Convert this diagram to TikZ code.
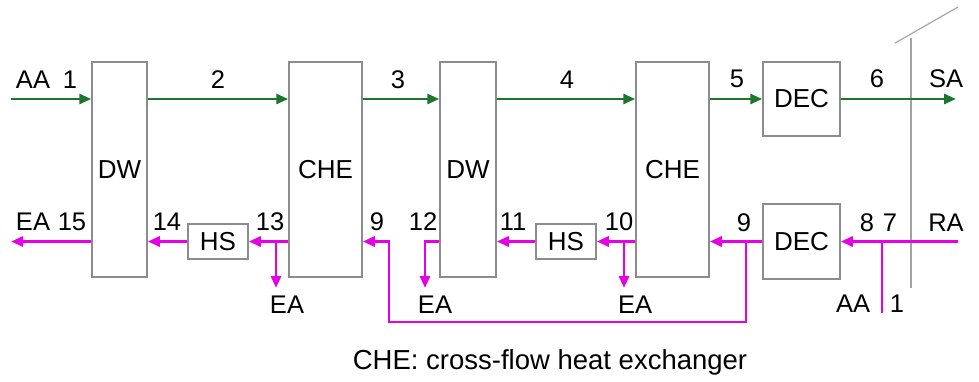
\documentclass[tikz,border=0pt]{standalone}
\usepackage{fontspec}
\setmainfont{Liberation Sans}
\usetikzlibrary{arrows.meta}
\definecolor{flowgreen}{RGB}{28,118,44}
\definecolor{flowmag}{RGB}{230,0,230}
\definecolor{boxgray}{RGB}{140,140,140}
\begin{document}
\begin{tikzpicture}[x=1pt,y=-1pt,
  unit/.style={draw=boxgray,line width=1.5pt,fill=white,inner sep=0pt,font=\fontsize{26}{26}\selectfont},
  tall/.style={unit,minimum height=215pt},
  lbl/.style={inner sep=0pt,font=\fontsize{25.5}{25.5}\selectfont},
  garrow/.style={draw=flowgreen,line width=2.8pt,-{Triangle[length=12pt,width=10pt]}},
  marrow/.style={draw=flowmag,line width=2.9pt,-{Triangle[length=12pt,width=10pt]}},
  mline/.style={draw=flowmag,line width=2.9pt},
  wall/.style={draw=boxgray!80,line width=1.1pt}]
\useasboundingbox (0,0) rectangle (979,381);
% units
\node[tall,minimum width=55pt] (DW1) at (119.5,169.5) {DW};
\node[tall,minimum width=73pt] (CHE1) at (325.5,169.5) {CHE};
\node[tall,minimum width=56pt] (DW2) at (468,169.5) {DW};
\node[tall,minimum width=73pt] (CHE2) at (672.5,169.5) {CHE};
\node[unit,minimum width=77pt,minimum height=74pt] (DEC1) at (801.5,99) {DEC};
\node[unit,minimum width=77pt,minimum height=75pt] (DEC2) at (801.5,241.5) {DEC};
\node[unit,minimum width=60pt,minimum height=35pt] (HS1) at (218,241.5) {HS};
\node[unit,minimum width=60pt,minimum height=35pt] (HS2) at (566,241.5) {HS};
% reference rows
\coordinate (gy) at (0,99);
\coordinate (my) at (0,241.5);
% wall
\coordinate (w1) at (911,38);
\coordinate (w2) at (911,288);
\coordinate (d1) at (895,43);
\coordinate (d2) at (958,7);
\draw[wall] (w1) -- (w2);
\draw[wall] (d1) -- (d2);
% supply (green)
\coordinate (gin) at (11,99);
\coordinate (gout) at (956,99);
\draw[garrow] (gin) -- (DW1.west |- gy);
\draw[garrow] (DW1.east |- gy) -- (CHE1.west |- gy);
\draw[garrow] (CHE1.east |- gy) -- (DW2.west |- gy);
\draw[garrow] (DW2.east |- gy) -- (CHE2.west |- gy);
\draw[garrow] (CHE2.east |- gy) -- (DEC1.west);
\draw[garrow] (DEC1.east) -- (gout);
% return (magenta)
\coordinate (rin) at (958,241.5);
\coordinate (j7) at (882,241.5);
\coordinate (aa2) at (882,313);
\draw[marrow] (rin) -- (DEC2.east);
\draw[mline] (aa2) -- (j7);
\draw[marrow] (DEC2.west) -- (CHE2.east |- my);
\coordinate (j9) at (746,241.5);
\coordinate (b9a) at (746,322);
\coordinate (b9b) at (389,322);
\coordinate (b9c) at (389,241.5);
\draw[marrow] (j9) -- (b9a) -- (b9b) -- (b9c) -- (CHE1.east |- my);
\draw[marrow] (CHE2.west |- my) -- (HS2.east);
\coordinate (j10) at (624,241.5);
\coordinate (e10) at (624,288);
\draw[marrow] (j10) -- (e10);
\draw[marrow] (HS2.west) -- (DW2.east |- my);
\coordinate (j12) at (425,241.5);
\coordinate (e12) at (425,288);
\draw[marrow] (DW2.west |- my) -- (j12) -- (e12);
\draw[marrow] (CHE1.west |- my) -- (HS1.east);
\coordinate (j13) at (276,241.5);
\coordinate (e13) at (276,288);
\draw[marrow] (j13) -- (e13);
\draw[marrow] (HS1.west) -- (DW1.east |- my);
\coordinate (eout) at (11,241.5);
\draw[marrow] (DW1.west |- my) -- (eout);
% labels top
\node[lbl] (tAA) at (33,80) {AA};
\node[lbl] (t1) at (70,80) {1};
\node[lbl] (t2) at (218,80) {2};
\node[lbl] (t3) at (398,80) {3};
\node[lbl] (t4) at (567,80) {4};
\node[lbl] (t5) at (737,79) {5};
\node[lbl] (t6) at (877,79) {6};
\node[lbl] (tSA) at (946,79) {SA};
% labels bottom row
\node[lbl] (tEA) at (33,222) {EA};
\node[lbl] (t15) at (72,222) {15};
\node[lbl] (t14) at (167,222) {14};
\node[lbl] (t13) at (270,222) {13};
\node[lbl] (t9a) at (377,222) {9};
\node[lbl] (t12) at (423,222) {12};
\node[lbl] (t11) at (513,222) {11};
\node[lbl] (t10) at (619,222) {10};
\node[lbl] (t9b) at (744,223) {9};
\node[lbl] (t8) at (867,223) {8};
\node[lbl] (t7) at (890,223) {7};
\node[lbl] (tRA) at (946,223) {RA};
% EA outlets
\node[lbl] (ea13) at (287,305) {EA};
\node[lbl] (ea12) at (435,305) {EA};
\node[lbl] (ea10) at (635,305) {EA};
\node[lbl] (bAA) at (853,304) {AA};
\node[lbl] (b1) at (897,304) {1};
% caption
\node[inner sep=0pt,font=\fontsize{27.5}{27.5}\selectfont] (cap) at (550,362) {CHE: cross-flow heat exchanger};
\end{tikzpicture}
\end{document}
